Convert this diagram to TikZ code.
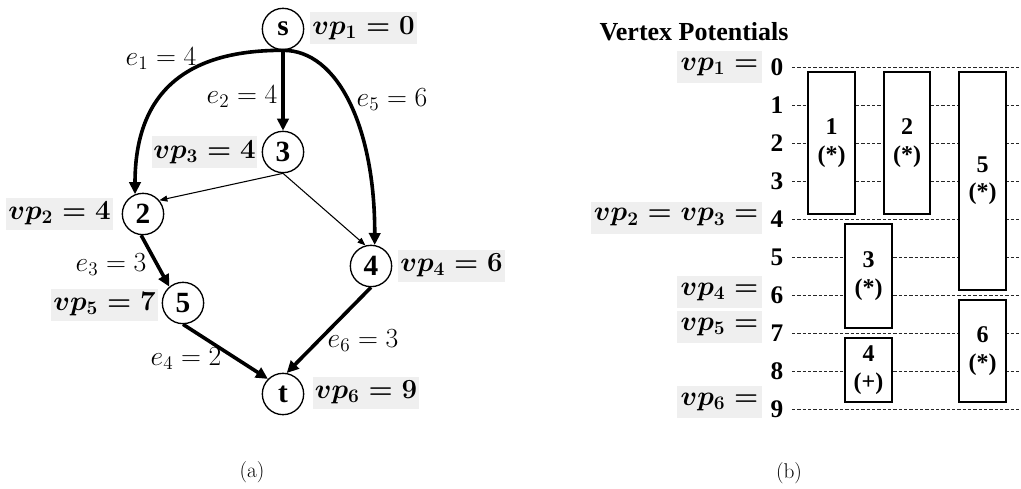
\documentclass[tikz,border=0pt]{standalone}
\usepackage{fontspec}
\usepackage{amsmath}
\newfontfamily\tms{Liberation Serif}
\usetikzlibrary{arrows.meta}
\definecolor{vpbg}{RGB}{239,239,239}
\begin{document}
\begin{tikzpicture}[x=0.75pt,y=-0.75pt,
  vert/.style={circle,draw,line width=1pt,minimum size=31pt,inner sep=0pt,
    font=\tms\bfseries\fontsize{22}{22}\selectfont},
  heavy/.style={line width=2.7pt,-{Triangle[length=9pt,width=8.5pt]}},
  light/.style={line width=0.8pt,-{Triangle[length=6pt,width=4.5pt]}},
  vplab/.style={fill=vpbg,inner sep=0pt,minimum height=24pt,
    font=\fontsize{21}{21}\selectfont\boldmath},
  rlab/.style={fill=vpbg,inner ysep=0pt,inner xsep=2.5pt,minimum height=24pt,anchor=east,
    font=\fontsize{20}{20}\selectfont\boldmath},
  elab/.style={inner sep=0pt,font=\fontsize{19.5}{19.5}\selectfont},
  num/.style={inner sep=0pt,font=\tms\bfseries\fontsize{19}{19}\selectfont},
  pbox/.style={draw,line width=0.9pt,fill=white,inner sep=0pt,align=center,
    font=\tms\bfseries\fontsize{18}{20.5}\selectfont},
  gridline/.style={dash pattern=on 2.5pt off 1.5pt,line width=0.7pt,black!85},
  captext/.style={inner sep=0pt,font=\fontsize{16}{16}\selectfont}
]
\useasboundingbox (0,0) rectangle (1021,489);

% ---------- (a) graph ----------
\node[vert] (s) at (283,29) {s};
\node[vert] (n3) at (283,152) {3};
\node[vert] (n2) at (143,214) {2};
\node[vert] (n5) at (183,303) {5};
\node[vert] (n4) at (371,266) {4};
\node[vert] (t) at (283,394) {t};

\draw[heavy] (s.south) .. controls (182,50) and (135,96) .. (n2.112);
\draw[heavy] (s.south) .. controls (338,50) and (375,128) .. (n4.80);
\draw[heavy] (s) -- (n3);
\draw[light] (n3.south) -- (n2.40);
\draw[light] (n3.south) -- (n4.105);
\draw[heavy] (n2.265) -- (n5.130);
\draw[heavy] (n5.south) -- (t.135);
\draw[heavy] (n4.south) -- (t.80);

\node[elab] (l1) at (161,59) {$e_1 = 4$};
\node[elab] (l2) at (242,97) {$e_2 = 4$};
\node[elab] (l5) at (392,100) {$e_5 = 6$};
\node[elab] (l3) at (111,265) {$e_3 = 3$};
\node[elab] (l4) at (186,359) {$e_4 = 2$};
\node[elab] (l6) at (363,341) {$e_6 = 3$};

\node[vplab,minimum width=80pt] (v1) at (363.5,28) {$vp_1 = 0$};
\node[vplab,minimum width=79pt] (v3) at (204.5,152) {$vp_3 = 4$};
\node[vplab,minimum width=80pt] (v2) at (59.5,213.5) {$vp_2 = 4$};
\node[vplab,minimum width=80pt] (v5) at (104.5,304.5) {$vp_5 = 7$};
\node[vplab,minimum width=80pt] (v4) at (451.5,265.5) {$vp_4 = 6$};
\node[vplab,minimum width=80pt] (v6) at (366,392.5) {$vp_6 = 9$};

\node[captext] (capa) at (252,472) {(a)};

% ---------- (b) vertex potentials ----------
\node[font=\tms\bfseries\fontsize{19.5}{20}\selectfont,inner sep=0pt] (title) at (694,31.5) {Vertex Potentials};

\foreach \k in {0,...,9} {
  \node[num] (g\k) at (777,67+38*\k) {\k};
  \draw[gridline] (792,67+38*\k) -- (1021,67+38*\k);
}

\node[rlab,minimum width=60pt] (r1) at (762,67) {$vp_1 =$};
\node[rlab] (r23) at (762,217.5) {$vp_2 = vp_3 =$};
\node[rlab,minimum width=60pt] (r4) at (762,292) {$vp_4 =$};
\node[rlab,minimum width=60pt] (r5) at (762,327) {$vp_5 =$};
\node[rlab,minimum width=60pt] (r6) at (762,402) {$vp_6 =$};

\node[pbox,minimum width=35.25pt,minimum height=106.5pt] (b1) at (831.5,143) {1\\(*)};
\node[pbox,minimum width=34.5pt,minimum height=106.5pt] (b2) at (907,143) {2\\(*)};
\node[pbox,minimum width=35.25pt,minimum height=163.5pt] (b5) at (982.5,181) {5\\(*)};
\node[pbox,minimum width=35.25pt,minimum height=78pt] (b3) at (868.5,276) {3\\(*)};
\node[pbox,minimum width=35.25pt,minimum height=48pt] (b4) at (868.5,370) {4\\(+)};
\node[pbox,minimum width=35.25pt,minimum height=76.5pt] (b6) at (982.5,351) {6\\(*)};

\node[captext] (capb) at (789,473) {(b)};
\end{tikzpicture}
\end{document}
